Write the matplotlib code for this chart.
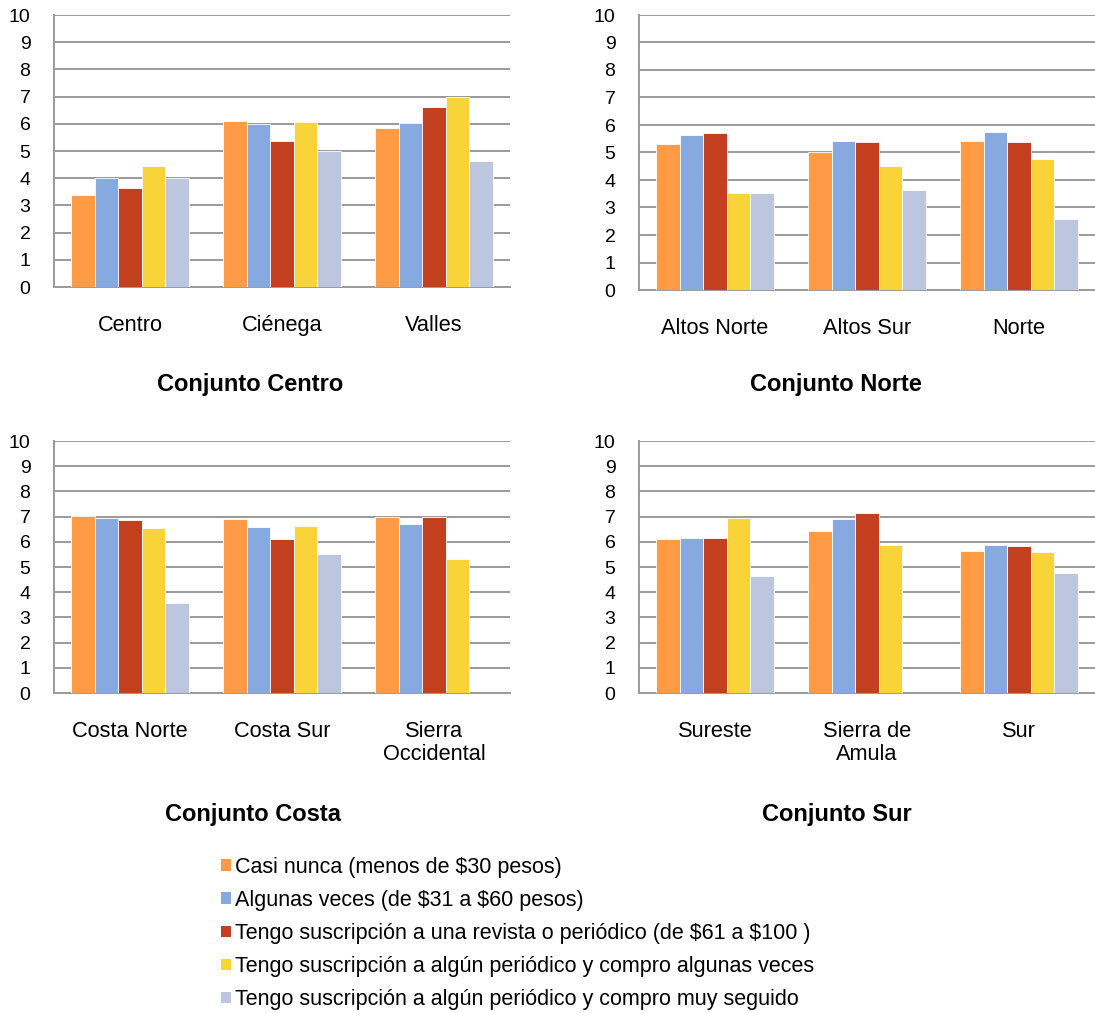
import matplotlib.pyplot as plt
from matplotlib.patches import Patch

plt.rcParams['font.family'] = ['Liberation Sans', 'DejaVu Sans']

# series labels
series = ['Casi nunca (menos de \\$30 pesos)',
          'Algunas veces (de \\$31 a \\$60 pesos)',
          'Tengo suscripción a una revista o periódico (de \\$61 a \\$100 )',
          'Tengo suscripción a algún periódico y compro algunas veces',
          'Tengo suscripción a algún periódico y compro muy seguido']
colors = ['#FF9A46', '#86AADF', '#C2401D', '#F8D438', '#BCC7DF']

# Conjunto Centro
cat_centro = ['Centro', 'Ciénega', 'Valles']
val_centro = [[3.38, 6.11, 5.86],
              [4.00, 6.01, 6.03],
              [3.65, 5.38, 6.60],
              [4.46, 6.05, 6.98],
              [4.00, 5.01, 4.62]]

# Conjunto Norte
cat_norte = ['Altos Norte', 'Altos Sur', 'Norte']
val_norte = [[5.31, 5.03, 5.43],
             [5.65, 5.42, 5.73],
             [5.72, 5.39, 5.37],
             [3.53, 4.50, 4.76],
             [3.52, 3.64, 2.58]]

# Conjunto Costa
cat_costa = ['Costa Norte', 'Costa Sur', 'Sierra\nOccidental']
val_costa = [[7.04, 6.90, 6.98],
             [6.93, 6.60, 6.70],
             [6.86, 6.10, 6.98],
             [6.55, 6.63, 5.32],
             [3.57, 5.53, 0.0]]

# Conjunto Sur
cat_sur = ['Sureste', 'Sierra de\nAmula', 'Sur']
val_sur = [[6.10, 6.42, 5.64],
           [6.15, 6.92, 5.87],
           [6.15, 7.15, 5.84],
           [6.96, 5.87, 5.59],
           [4.66, 0.0, 4.78]]

titles = ['Conjunto Centro', 'Conjunto Norte', 'Conjunto Costa', 'Conjunto Sur']

W, H = 1095, 1013
fig = plt.figure(figsize=(W / 100, H / 100), dpi=100)

# axes boxes in pixels: left, top, right, bottom
boxes = [(54, 15, 510, 287), (639, 15, 1095, 290),
         (54, 441, 510, 693), (639, 441, 1095, 693)]
panels = [(cat_centro, val_centro), (cat_norte, val_norte),
          (cat_costa, val_costa), (cat_sur, val_sur)]
title_pos = [(250, 384), (836, 384), (253, 814), (837, 814)]

grid_c = '#9A9A9A'
bw = 0.155
for (l, t, r, b), (cats, vals), title, (tx, ty) in zip(boxes, panels, titles, title_pos):
    ax = fig.add_axes([l / W, 1 - b / H, (r - l) / W, (b - t) / H])
    for i, v in enumerate(vals):
        xs = [k + (i - 2) * bw for k in range(len(cats))]
        ax.bar(xs, v, width=bw, color=colors[i], edgecolor='white', linewidth=0.6, zorder=3)
    ax.set_xlim(-0.5, len(cats) - 0.5)
    ax.set_ylim(0, 10)
    ax.set_yticks(range(11))
    ax.set_xticks(range(len(cats)))
    ax.set_xticklabels(cats, fontsize=15.7, linespacing=1.1)
    ax.tick_params(axis='y', length=0, pad=17, labelsize=14)
    ax.tick_params(axis='x', length=0, pad=20.5)
    ax.grid(axis='y', color=grid_c, linewidth=1.4, zorder=0)
    for s in ['top', 'right']:
        ax.spines[s].set_visible(False)
    for s in ['left', 'bottom']:
        ax.spines[s].set_color(grid_c)
        ax.spines[s].set_linewidth(1.4)
    fig.text(tx / W, 1 - ty / H, title, ha='center', va='center',
             fontsize=17, fontweight='bold')

handles = [Patch(facecolor=c, edgecolor='none') for c in colors]
fig.legend(handles, series, loc='upper left', bbox_to_anchor=(221 / W, 1 - 857 / H),
           frameon=False, fontsize=15.5, handlelength=0.47, handleheight=0.47,
           handletextpad=0.2, labelspacing=0.56, borderpad=0, borderaxespad=0)

fig.savefig('out.png', dpi=100)
